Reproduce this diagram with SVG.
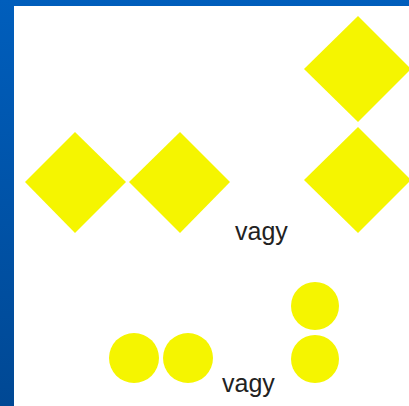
<svg xmlns="http://www.w3.org/2000/svg" width="409" height="406" viewBox="0 0 409 406">
<defs>
<linearGradient id="bg" x1="0" y1="0" x2="0" y2="1">
<stop offset="0" stop-color="#005ebc"/>
<stop offset="1" stop-color="#004894"/>
</linearGradient>
</defs>
<style>
.shape{fill:#f5f500}
.lbl{font-family:"Liberation Sans",Arial,sans-serif;font-size:25px;fill:#222}
</style>
<rect x="0" y="0" width="409" height="406" fill="url(#bg)"/>
<rect x="14" y="6" width="395" height="400" fill="#ffffff"/>
<g id="diamond1"><polygon class="shape" points="75,132 126,182 75,233 25,182"/></g>
<g id="diamond2"><polygon class="shape" points="180,132 230,182 180,233 129,182"/></g>
<g id="diamond3"><polygon class="shape" points="358,16 411,69 358,122 304,69"/></g>
<g id="diamond4"><polygon class="shape" points="358,127 411,180 358,233 304,180"/></g>
<g id="circle1"><circle class="shape" cx="134" cy="358" r="25"/></g>
<g id="circle2"><circle class="shape" cx="188" cy="358" r="25"/></g>
<g id="circle3"><circle class="shape" cx="315" cy="306" r="24"/></g>
<g id="circle4"><circle class="shape" cx="315" cy="359" r="24"/></g>
<g id="connectors"></g>
<text class="lbl" x="235" y="240">vagy</text>
<text class="lbl" x="222" y="392">vagy</text>
</svg>
